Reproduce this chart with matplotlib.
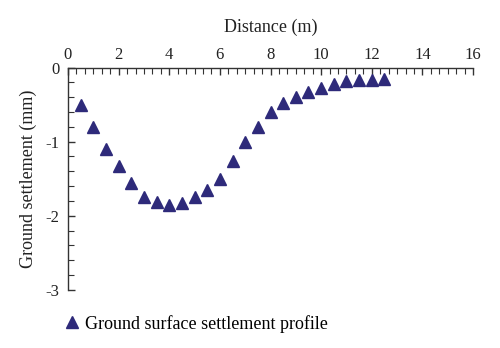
import matplotlib
matplotlib.use("Agg")
import matplotlib.pyplot as plt
from matplotlib.ticker import MultipleLocator

# settlement profile measured along the surface
distance = [0.5, 1.0, 1.5, 2.0, 2.5, 3.0, 3.5, 4.0, 4.5, 5.0, 5.5, 6.0, 6.5,
            7.0, 7.5, 8.0, 8.5, 9.0, 9.5, 10.0, 10.5, 11.0, 11.5, 12.0, 12.5]
settlement = [-0.51, -0.80, -1.10, -1.33, -1.56, -1.75, -1.81, -1.86, -1.83,
              -1.75, -1.65, -1.50, -1.26, -1.00, -0.80, -0.60, -0.48, -0.40,
              -0.33, -0.27, -0.22, -0.18, -0.17, -0.17, -0.16]

x_ticks = [0, 2, 4, 6, 8, 10, 12, 14, 16]
y_ticks = [0, -1, -2, -3]

plt.rcParams['font.family'] = ['Liberation Serif', 'DejaVu Serif']
plt.rcParams['axes.unicode_minus'] = False

fig = plt.figure(figsize=(5.0, 3.48), dpi=100)
ax = fig.add_axes([0.136, 0.167, 0.81, 0.639])

ax.plot(distance, settlement, linestyle='none', marker='^', markersize=9,
        color='#2e2a7a', label='Ground surface settlement profile')

ax.set_xlim(0, 16)
ax.set_ylim(-3, 0)
ax.set_xticks(x_ticks)
ax.set_yticks(y_ticks)
ax.xaxis.set_minor_locator(MultipleLocator(1 / 3))
ax.yaxis.set_minor_locator(MultipleLocator(0.2))

ax.xaxis.tick_top()
ax.xaxis.set_label_position('top')
ax.spines['right'].set_visible(False)
ax.spines['bottom'].set_visible(False)
for side in ('left', 'top'):
    ax.spines[side].set_color('#333333')
    ax.spines[side].set_linewidth(1.0)

ax.tick_params(axis='both', which='both', direction='in', color='#333333',
               labelsize=12, labelcolor='#222222')
ax.tick_params(axis='both', which='major', length=5, width=1.0)
ax.tick_params(axis='both', which='minor', length=4, width=0.8)
ax.tick_params(axis='x', which='major', pad=3)
ax.tick_params(axis='y', which='major', pad=6)

ax.set_xlabel('Distance (m)', fontsize=13, color='#222222', labelpad=11)
ax.set_ylabel('Ground settlement (mm)', fontsize=13, color='#222222', labelpad=6)

ax.legend(loc='upper left', bbox_to_anchor=(-0.03, -0.08), frameon=False,
          fontsize=13, handletextpad=0.2, handlelength=1.0, borderaxespad=0)

fig.savefig('out.png', dpi=100)
